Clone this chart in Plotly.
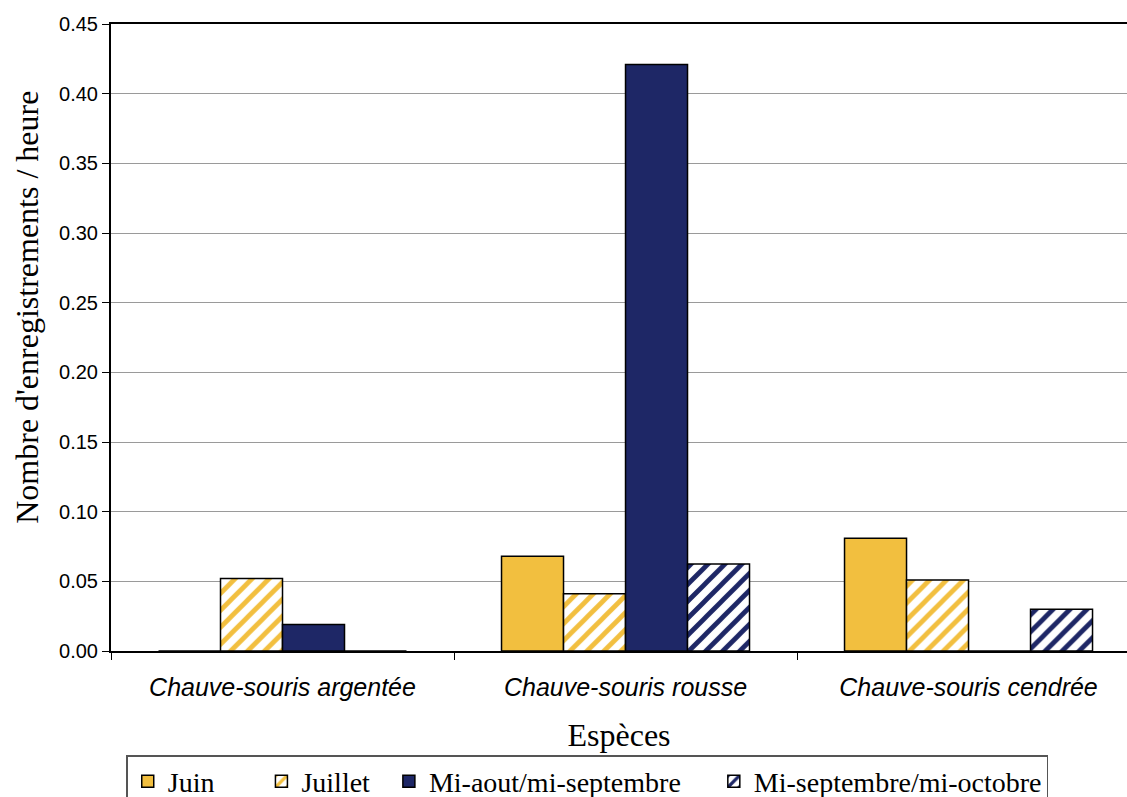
import plotly.graph_objects as go

categories = ["Chauve-souris argentée", "Chauve-souris rousse", "Chauve-souris cendrée"]
series_names = ["Juin", "Juillet", "Mi-aout/mi-septembre", "Mi-septembre/mi-octobre"]
juin = [0.0, 0.068, 0.081]
juillet = [0.052, 0.041, 0.051]
mi_aout = [0.019, 0.421, 0.0]
mi_sept = [0.0, 0.0625, 0.030]
y_ticks = [0.0, 0.05, 0.10, 0.15, 0.20, 0.25, 0.30, 0.35, 0.40, 0.45]

YELLOW = "#F2BF3F"
NAVY = "#1E2766"
legend_pad = [6, 2, 4, 0]

fig = go.Figure()
styles = [
    dict(color=YELLOW, pattern=None),
    dict(color="white", pattern=dict(shape="/", fgcolor=YELLOW, bgcolor="white", fgopacity=1, size=12, solidity=0.4)),
    dict(color=NAVY, pattern=None),
    dict(color="white", pattern=dict(shape="/", fgcolor=NAVY, bgcolor="white", fgopacity=1, size=12, solidity=0.4)),
]
for name, vals, st, pad in zip(series_names, [juin, juillet, mi_aout, mi_sept], styles, legend_pad):
    marker = dict(color=st["color"], line=dict(color="black", width=1.5))
    if st["pattern"]:
        marker["pattern"] = st["pattern"]
    fig.add_trace(go.Bar(x=categories, y=vals, name=name + "\u00a0" * pad, marker=marker))

fig.update_layout(
    width=1127, height=797,
    margin=dict(l=111, r=0, t=24, b=146, autoexpand=False),
    paper_bgcolor="white", plot_bgcolor="white",
    barmode="group", bargap=0.277, bargroupgap=0,
    font=dict(family="Liberation Sans", color="black"),
    legend=dict(
        orientation="h", x=0.015, xanchor="left", y=-0.166, yanchor="top",
        font=dict(family="Liberation Serif", size=28, color="black"),
        bordercolor="#555", borderwidth=1.5, bgcolor="white",
        itemwidth=30, tracegroupgap=0,
    ),
    showlegend=True,
    annotations=[dict(
        text="Nombre d'enregistrements / heure", textangle=-90,
        xref="paper", yref="paper", x=-0.0827, y=0.549, xanchor="center", yanchor="middle",
        showarrow=False, font=dict(family="Liberation Serif", size=32, color="black"),
    )],
)
fig.update_xaxes(
    range=[-0.5, 2.462],
    showline=True, linecolor="black", linewidth=2, mirror=True,
    ticks="outside", tickson="boundaries", ticklen=7, tickcolor="black",
    tickfont=dict(family="Liberation Sans", size=25, color="black"),
    ticklabelstandoff=13,
    title=dict(text="Espèces", font=dict(family="Liberation Serif", size=32, color="black"), standoff=24),
    showgrid=False,
)
fig.update_xaxes(ticktext=["<i>" + c + "</i>" for c in categories], tickvals=categories)
fig.update_yaxes(
    range=[0, 0.45], tickvals=y_ticks, tickformat=".2f",
    showline=True, linecolor="black", linewidth=2,
    ticks="outside", ticklen=7, tickcolor="black",
    tickfont=dict(family="Liberation Sans", size=20, color="black"),
    showgrid=True, gridcolor="#9a9a9a", gridwidth=1,
    zeroline=False,
)

fig.write_html("out.html")
